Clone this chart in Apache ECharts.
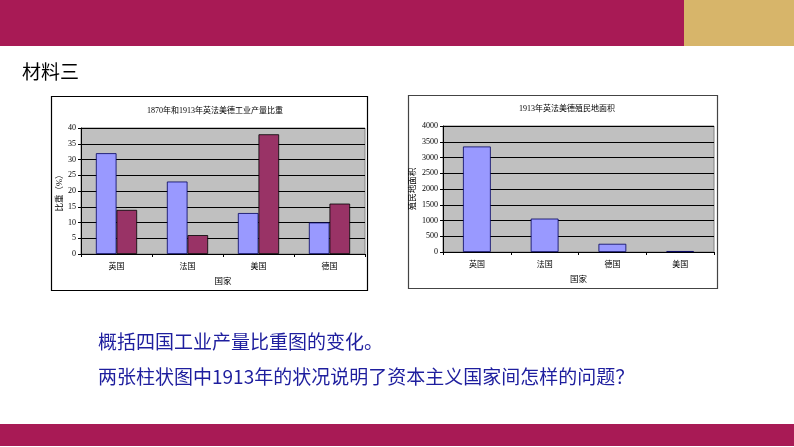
<!DOCTYPE html>
<html>
<head>
<meta charset="utf-8">
<script src="https://cdn.jsdelivr.net/npm/echarts@6/dist/echarts.min.js"></script>
<style>
html,body{margin:0;padding:0;background:#fff;}
#main{width:794px;height:447px;}
</style>
</head>
<body>
<div id="main"></div>
<script>
// ---- data ----
const leftTitle = '1870年和1913年英法美德工业产量比重';
const leftCategories = ['英国', '法国', '美国', '德国'];
const share1870 = [32, 23, 13, 10];
const share1913 = [14, 6, 38, 16];
const leftYName = '比重（%）';

const rightTitle = '1913年英法美德殖民地面积';
const rightCategories = ['英国', '法国', '德国', '美国'];
const colonyArea = [3350, 1060, 260, 30];
const rightYName = '殖民地面积';

const xName = '国家';
const heading = '材料三';
const question1 = '概括四国工业产量比重图的变化。';
const question2 = '两张柱状图中1913年的状况说明了资本主义国家间怎样的问题？';

const chartFont = "'Liberation Serif', 'Noto Sans CJK SC', serif";
const smallText = { fontFamily: chartFont, fontSize: 8, color: '#000' };

function yAxisCfg(gridIndex, max, interval, name, gap) {
  return {
    type: 'value', gridIndex: gridIndex, min: 0, max: max, interval: interval,
    name: name, nameLocation: 'middle', nameGap: gap,
    nameTextStyle: { fontFamily: chartFont, fontSize: 8.5, color: '#000' },
    axisLine: { show: true, lineStyle: { color: '#000', width: 1 } },
    axisTick: { show: true, length: 3, lineStyle: { color: '#000' } },
    axisLabel: Object.assign({ margin: 5, formatter: function (v) { return String(v); } }, smallText),
    splitLine: { show: true, lineStyle: { color: '#000', width: 1 } }
  };
}
function xAxisCfg(gridIndex, cats) {
  return {
    type: 'category', gridIndex: gridIndex, data: cats,
    name: xName, nameLocation: 'middle', nameGap: 24,
    nameTextStyle: { fontFamily: chartFont, fontSize: 8.5, color: '#000' },
    axisLine: { show: true, lineStyle: { color: '#000', width: 1 } },
    axisTick: { show: true, length: 3, alignWithLabel: false, lineStyle: { color: '#000' } },
    axisLabel: Object.assign({ margin: 9 }, smallText)
  };
}

const chart = echarts.init(document.getElementById('main'), null, { renderer: 'canvas' });
chart.setOption({
  animation: false,
  backgroundColor: '#fff',
  title: [
    { text: leftTitle, left: 210, top: 102, textAlign: 'center',
      textStyle: { fontFamily: chartFont, fontSize: 8, fontWeight: 'normal', color: '#000' } },
    { text: rightTitle, left: 562, top: 100, textAlign: 'center',
      textStyle: { fontFamily: chartFont, fontSize: 8, fontWeight: 'normal', color: '#000' } }
  ],
  grid: [
    { left: 81, top: 128, width: 284, height: 126, show: true,
      backgroundColor: '#C0C0C0', borderColor: '#808080', borderWidth: 1, containLabel: false },
    { left: 443, top: 126, width: 271, height: 126, show: true,
      backgroundColor: '#C0C0C0', borderColor: '#808080', borderWidth: 1, containLabel: false }
  ],
  xAxis: [ xAxisCfg(0, leftCategories), xAxisCfg(1, rightCategories) ],
  yAxis: [
    yAxisCfg(0, 40, 5, leftYName, 15),
    yAxisCfg(1, 4000, 500, rightYName, 26)
  ],
  series: [
    { name: '1870年', type: 'bar', xAxisIndex: 0, yAxisIndex: 0, data: share1870,
      barGap: '0%', barCategoryGap: '42%',
      itemStyle: { color: '#9999FF', borderColor: '#000060', borderWidth: 0.8 } },
    { name: '1913年', type: 'bar', xAxisIndex: 0, yAxisIndex: 0, data: share1913,
      barGap: '0%', barCategoryGap: '42%',
      itemStyle: { color: '#993366', borderColor: '#000', borderWidth: 0.8 } },
    { name: '1913年', type: 'bar', xAxisIndex: 1, yAxisIndex: 1, data: colonyArea,
      barCategoryGap: '59%',
      itemStyle: { color: '#9999FF', borderColor: '#000060', borderWidth: 0.8 } }
  ],
  graphic: [
    { type: 'rect', shape: { x: 0, y: 0, width: 684, height: 46 }, style: { fill: '#A81A55' }, z: -10 },
    { type: 'rect', shape: { x: 684, y: 0, width: 110, height: 46 }, style: { fill: '#D7B56A' }, z: -10 },
    { type: 'rect', shape: { x: 0, y: 424, width: 794, height: 22 }, style: { fill: '#A81A55' }, z: -10 },
    { type: 'text', x: 22, y: 72, style: { text: heading, fontFamily: "'Noto Sans CJK SC', sans-serif",
      fontSize: 19, fill: '#000', textVerticalAlign: 'middle' } },
    { type: 'rect', shape: { x: 51.5, y: 96.5, width: 316, height: 194 },
      style: { fill: null, stroke: '#000', lineWidth: 1.2 }, z: -5 },
    { type: 'rect', shape: { x: 408.5, y: 95.5, width: 309, height: 193 },
      style: { fill: null, stroke: '#444', lineWidth: 1.2 }, z: -5 },
    { type: 'text', x: 98, y: 342, style: { text: question1, fontFamily: "'Noto Sans CJK SC', sans-serif",
      fontSize: 19, fill: '#1E1E9E', textVerticalAlign: 'middle' } },
    { type: 'text', x: 98, y: 377, style: { text: question2, fontFamily: "'Noto Sans CJK SC', sans-serif",
      fontSize: 19, fill: '#1E1E9E', textVerticalAlign: 'middle' } }
  ]
});
</script>
</body>
</html>
